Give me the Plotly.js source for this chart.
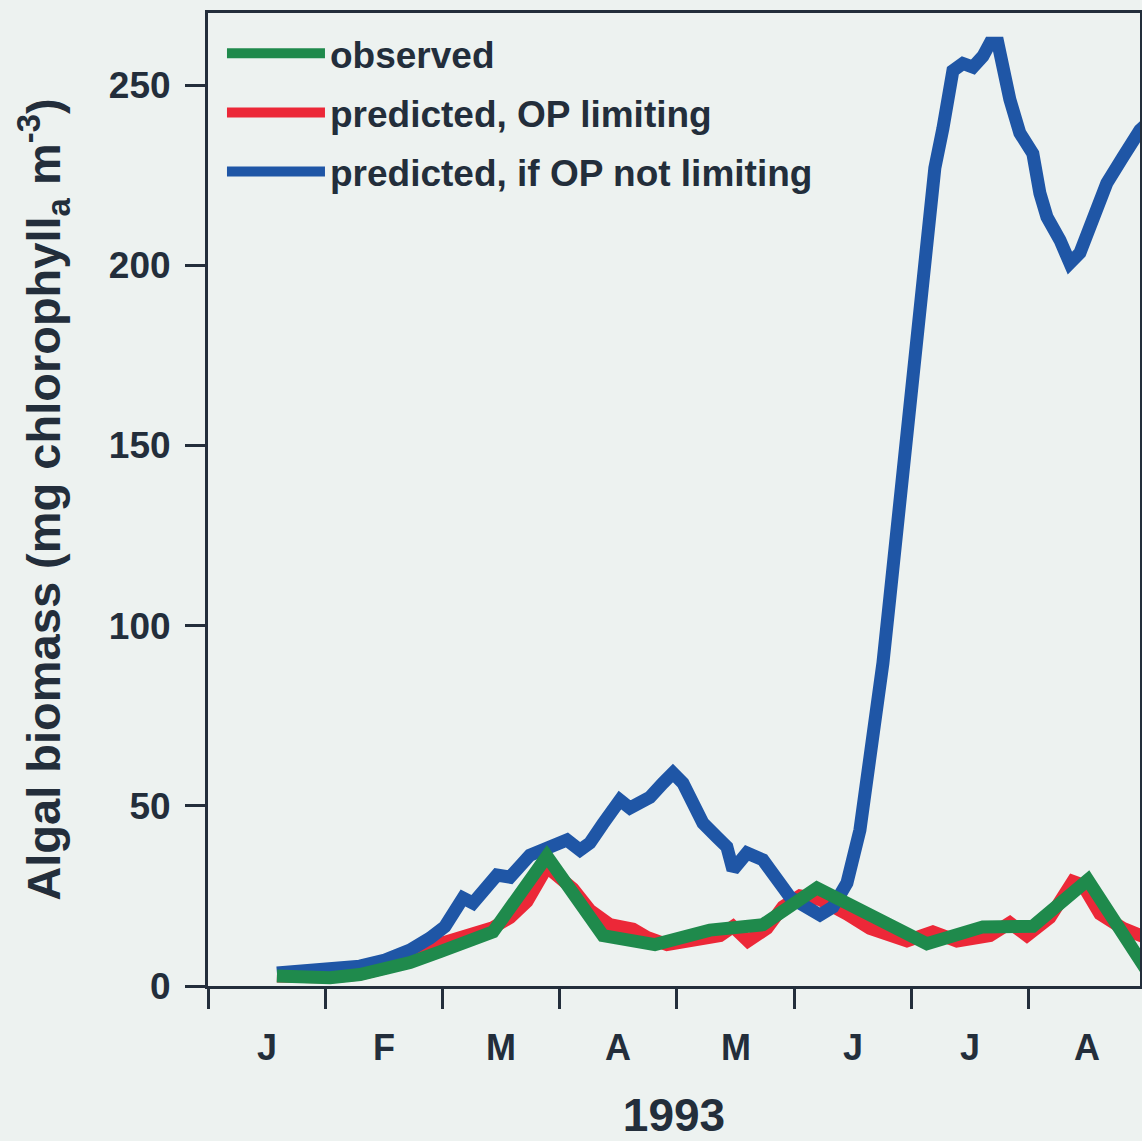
<!DOCTYPE html>
<html>
<head>
<meta charset="utf-8">
<script src="https://cdn.plot.ly/plotly-3.0.1.min.js"></script>
<style>
html,body{margin:0;padding:0;background:#edf2f0;overflow:hidden;}
#chart{width:1142px;height:1141px;}
</style>
</head>
<body>
<div id="chart"></div>
<script>
// x values are in months from 1 January 1993 (0 = Jan 1, 1 = Feb 1, ...)
var monthLabels = ['J','F','M','A','M','J','J','A'];
var monthCenters = [0.5,1.5,2.5,3.5,4.5,5.5,6.5,7.5];
var monthTicks = [0,1,2,3,4,5,6,7,8];
var yTicks = [0,50,100,150,200,250];

var obsX = [0.588,0.785,1.041,1.296,1.510,1.723,1.979,2.235,2.431,2.891,3.369,3.812,4.281,4.733,5.194,6.132,6.610,7.036,7.505,8.034];
var obsY = [2.8,2.2,2.3,3.2,4.5,6.5,9.5,12.5,15.0,36.0,14.0,11.5,15.5,17.0,27.2,11.7,16.4,16.6,29.4,3.0];

var predX = [0.588,0.785,1.041,1.296,1.510,1.748,1.979,2.149,2.320,2.431,2.576,2.721,2.891,3.002,3.113,3.258,3.429,3.625,3.744,3.915,4.196,4.367,4.478,4.606,4.768,4.904,5.049,5.220,5.450,5.646,5.962,6.183,6.388,6.670,6.840,6.985,7.181,7.377,7.463,7.608,7.804,8.034];
var predY = [2.8,2.4,2.5,3.3,5.0,9.4,12.0,13.9,15.5,16.2,19.0,23.5,33.0,30.0,27.0,21.0,17.0,15.8,13.5,11.5,12.5,14.0,16.5,12.5,16.0,22.0,25.0,24.0,20.0,16.0,12.5,15.0,12.5,14.0,17.5,14.0,19.0,29.0,28.0,20.0,16.0,13.0];

var noLimX = [0.588,0.785,1.041,1.296,1.510,1.723,1.893,2.021,2.175,2.260,2.465,2.576,2.746,2.891,3.062,3.173,3.258,3.369,3.514,3.599,3.770,3.881,3.966,4.051,4.136,4.222,4.341,4.426,4.478,4.597,4.733,4.819,4.964,5.049,5.220,5.330,5.450,5.561,5.672,5.757,5.817,5.876,5.928,5.987,6.047,6.132,6.200,6.269,6.354,6.439,6.525,6.610,6.670,6.738,6.780,6.840,6.925,6.985,7.036,7.096,7.156,7.267,7.352,7.437,7.548,7.667,7.804,7.949,8.034];
var noLimY = [3.6,3.9,4.4,5.5,7.2,10.0,13.3,16.5,24.4,23.0,30.8,30.2,36.3,38.6,40.5,37.7,39.7,45.0,51.6,49.4,52.4,56.3,59.1,56.3,49.7,45.2,41.3,38.6,32.2,36.9,35.0,31.4,24.7,23.0,19.7,21.9,28.6,43.3,66.3,89.6,108,127,145,165,181,209,227,238,254,256,255,258,261.6,261.6,255,246,236.7,233,231,220,213.4,207,200.6,203.4,213.4,222.8,230,237.5,240];

var ink = '#232e3b';
var fontFam = '"Liberation Sans", Arial, Helvetica, sans-serif';

var traces = [
  {x: predX, y: predY, type:'scatter', mode:'lines', name:'predicted, OP limiting',
   line:{color:'#ec2838', width:13}, legendgroup:'b', legendrank:2},
  {x: noLimX, y: noLimY, type:'scatter', mode:'lines', name:'predicted, if OP not limiting',
   line:{color:'#1f56a6', width:13}, legendgroup:'c', legendrank:3},
  {x: obsX, y: obsY, type:'scatter', mode:'lines', name:'observed',
   line:{color:'#1f8a4c', width:13}, legendgroup:'a', legendrank:1}
];

var annotations = monthLabels.map(function(t,i){
  return {x: monthCenters[i], xref:'x', y:0, yref:'paper', yanchor:'middle', xanchor:'center',
          yshift:-61, text:t, showarrow:false,
          font:{family:fontFam, size:36, color:ink, weight:700}};
});

var layout = {
  width:1142, height:1141,
  margin:{l:208, r:2, t:13, b:155},
  paper_bgcolor:'#edf2f0', plot_bgcolor:'#edf2f0',
  showlegend:true,
  legend:{x:0.015, y:0.99, xanchor:'left', yanchor:'top', bgcolor:'rgba(0,0,0,0)',
          traceorder:'grouped', tracegroupgap:8, itemwidth:98,
          font:{family:fontFam, size:37, color:ink, weight:700}},
  xaxis:{range:[0,7.95], tickvals:monthTicks, showticklabels:false,
         ticks:'outside', ticklen:20, tickwidth:3, tickcolor:ink,
         showline:true, linewidth:3, linecolor:ink, mirror:true,
         showgrid:false, zeroline:false,
         title:{text:'1993', standoff:97, font:{family:fontFam, size:46, color:ink, weight:700}}},
  yaxis:{range:[0,270], tickvals:yTicks,
         ticks:'outside', ticklen:20, tickwidth:3, tickcolor:ink,
         showline:true, linewidth:3, linecolor:ink, mirror:true,
         showgrid:false, zeroline:false, ticklabelstandoff:7,
         tickfont:{family:fontFam, size:37, color:ink, weight:700},
         title:{text:'Algal biomass (mg chlorophyll<sub>a</sub> m<sup>-3</sup>)', standoff:34,
                font:{family:fontFam, size:47, color:ink, weight:700}}},
  annotations: annotations
};

Plotly.newPlot('chart', traces, layout, {displayModeBar:false, staticPlot:true});
</script>
</body>
</html>
